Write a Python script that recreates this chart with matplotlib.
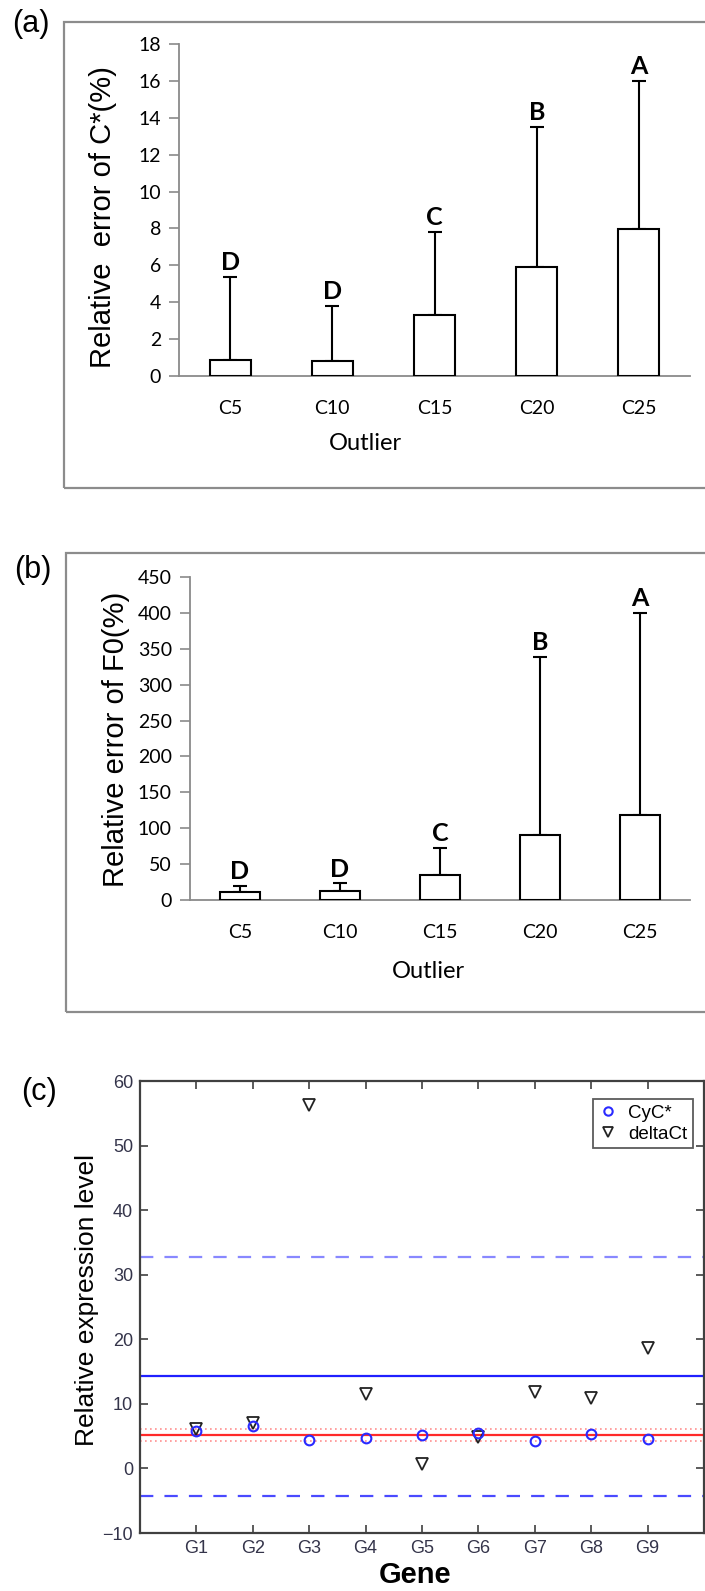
import matplotlib
matplotlib.use("Agg")
import matplotlib.pyplot as plt
from matplotlib.patches import Rectangle
from matplotlib.lines import Line2D

# panel (a) / (b) data
outliers = ["C5", "C10", "C15", "C20", "C25"]
letters = ["D", "D", "C", "B", "A"]
cstar_mean = [0.85, 0.8, 3.3, 5.92, 7.98]
cstar_top = [5.38, 3.8, 7.8, 13.5, 16.0]
f0_mean = [11, 13, 35, 91, 118]
f0_top = [19, 23, 73, 339, 400]

# panel (c) data
genes = ["G1", "G2", "G3", "G4", "G5", "G6", "G7", "G8", "G9"]
cyc = [5.85, 6.55, 4.4, 4.75, 5.15, 5.5, 4.25, 5.35, 4.55]
delta_ct = [6.1, 7.0, 56.3, 11.6, 0.7, 4.85, 11.8, 10.9, 18.7]
blue_mean = 14.3
blue_bounds = [32.8, -4.3]
red_mean = 5.1
red_bounds = [6.05, 4.2]

W, H = 705, 1591
fig = plt.figure(figsize=(W / 100, H / 100), dpi=100)

excel_font = "Lato"
arial = "Liberation Sans"
grey = "#8a8a8a"


def px_axes(x0, y0, x1, y1):
    # pixel box (top-left origin) -> axes
    return fig.add_axes([x0 / W, 1 - y1 / H, (x1 - x0) / W, (y1 - y0) / H])


def frame(x0, y0, y1):
    fig.add_artist(Rectangle((x0 / W, 1 - y1 / H), 1.2, (y1 - y0) / H,
                             transform=fig.transFigure, fill=False,
                             edgecolor="#8c8c8c", lw=1.6, clip_on=False))


def bar_panel(ax, means, tops, ymax, step):
    x = list(range(1, len(outliers) + 1))
    ax.bar(x, means, width=0.4, color="white", edgecolor="black", lw=1.5, zorder=3)
    lower = [0] * len(means)
    upper = [t - m for t, m in zip(tops, means)]
    ax.errorbar(x, means, yerr=[lower, upper], fmt="none", ecolor="black",
                elinewidth=1.5, capsize=5, capthick=1.5, zorder=2)
    for xi, t, l in zip(x, tops, letters):
        ax.annotate(l, (xi, t), xytext=(0, 5), textcoords="offset points",
                    ha="center", va="baseline", fontsize=18, fontweight="bold",
                    family=excel_font)
    ax.set_xlim(0.5, len(outliers) + 0.5)
    ax.set_ylim(0, ymax)
    ax.set_yticks(range(0, ymax + 1, step))
    ax.set_xticks(x)
    ax.set_xticklabels(outliers)
    for s in ["top", "right"]:
        ax.spines[s].set_visible(False)
    for s in ["left", "bottom"]:
        ax.spines[s].set_color(grey)
        ax.spines[s].set_linewidth(1.3)
    ax.tick_params(axis="y", direction="out", length=7, color=grey, width=1.2,
                   labelsize=14, pad=6)
    ax.tick_params(axis="x", length=0, labelsize=14, pad=17)
    for lab in ax.get_xticklabels() + ax.get_yticklabels():
        lab.set_family(excel_font)
    ax.patch.set_alpha(0)


# (a)
frame(64, 22, 488)
ax_a = px_axes(179, 44, 690, 376)
bar_panel(ax_a, cstar_mean, cstar_top, 18, 2)
fig.text(12 / W, 1 - 24 / H, "(a)", fontsize=22, family=arial, va="center")
fig.text(103 / W, 1 - 217 / H, "Relative  error of C*(%)", rotation=90, fontsize=21,
         family=arial, ha="center", va="center")
fig.text(365 / W, 1 - 443 / H, "Outlier", fontsize=17, family=excel_font,
         ha="center", va="center")

# (b)
frame(66, 553, 1012)
ax_b = px_axes(190, 577, 690, 900)
bar_panel(ax_b, f0_mean, f0_top, 450, 50)
fig.text(14 / W, 1 - 570 / H, "(b)", fontsize=22, family=arial, va="center")
fig.text(116 / W, 1 - 739 / H, "Relative error of F0(%)", rotation=90, fontsize=21,
         family=arial, ha="center", va="center")
fig.text(428 / W, 1 - 972 / H, "Outlier", fontsize=17, family=excel_font,
         ha="center", va="center")

# (c)
ax_c = px_axes(140, 1081, 704, 1533)
gx = list(range(1, len(genes) + 1))
ax_c.axhline(blue_mean, color="#2020ff", lw=1.6)
ax_c.axhline(blue_bounds[0], color="#8888ff", lw=1.6, ls=(0, (6, 5)))
ax_c.axhline(blue_bounds[1], color="#4a4aff", lw=1.6, ls=(0, (6, 5)))
ax_c.axhline(red_mean, color="#ff2a2a", lw=1.6)
for b in red_bounds:
    ax_c.axhline(b, color="#ff9090", lw=1.2, ls=(0, (1, 2)))
ax_c.plot(gx, cyc, "o", mfc="none", mec="#2a2aff", ms=7, mew=1.5, zorder=5)
ax_c.plot(gx, delta_ct, "v", mfc="none", mec="#222222", ms=8, mew=1.3, zorder=4)
ax_c.set_xlim(0, 10)
ax_c.set_ylim(-10, 60)
ax_c.set_xticks(gx)
ax_c.set_xticklabels(genes)
ax_c.set_yticks(range(-10, 61, 10))
ax_c.tick_params(direction="in", top=True, right=True, length=6, width=1.2,
                 color="#404040", labelcolor="#34344a", labelsize=13, pad=5)
for s in ax_c.spines.values():
    s.set_color("#404040")
    s.set_linewidth(1.6)
for lab in ax_c.get_xticklabels() + ax_c.get_yticklabels():
    lab.set_family(arial)
handles = [
    Line2D([], [], ls="none", marker="o", mfc="none", mec="#2a2aff", ms=6, mew=1.5),
    Line2D([], [], ls="none", marker="v", mfc="none", mec="#222222", ms=7, mew=1.3),
]
leg = ax_c.legend(handles, ["CyC*", "deltaCt"], loc="upper right",
                  bbox_to_anchor=((693 - 140) / 564, 1 - (1099 - 1081) / 452),
                  prop={"family": arial, "size": 13.5},
                  frameon=True, fancybox=False, edgecolor="#333333",
                  handlelength=1.0, handletextpad=0.6, borderpad=0.3,
                  labelspacing=0.2, borderaxespad=0)
leg.get_frame().set_linewidth(1.3)
fig.text(21 / W, 1 - 1092 / H, "(c)", fontsize=22, family=arial, va="center")
fig.text(87 / W, 1 - 1300 / H, "Relative expression level", rotation=90,
         fontsize=19, family=arial, ha="center", va="center")
fig.text(415 / W, 1 - 1575 / H, "Gene", fontsize=21, fontweight="bold",
         family=arial, ha="center", va="center")

fig.savefig("out.png", dpi=100)
